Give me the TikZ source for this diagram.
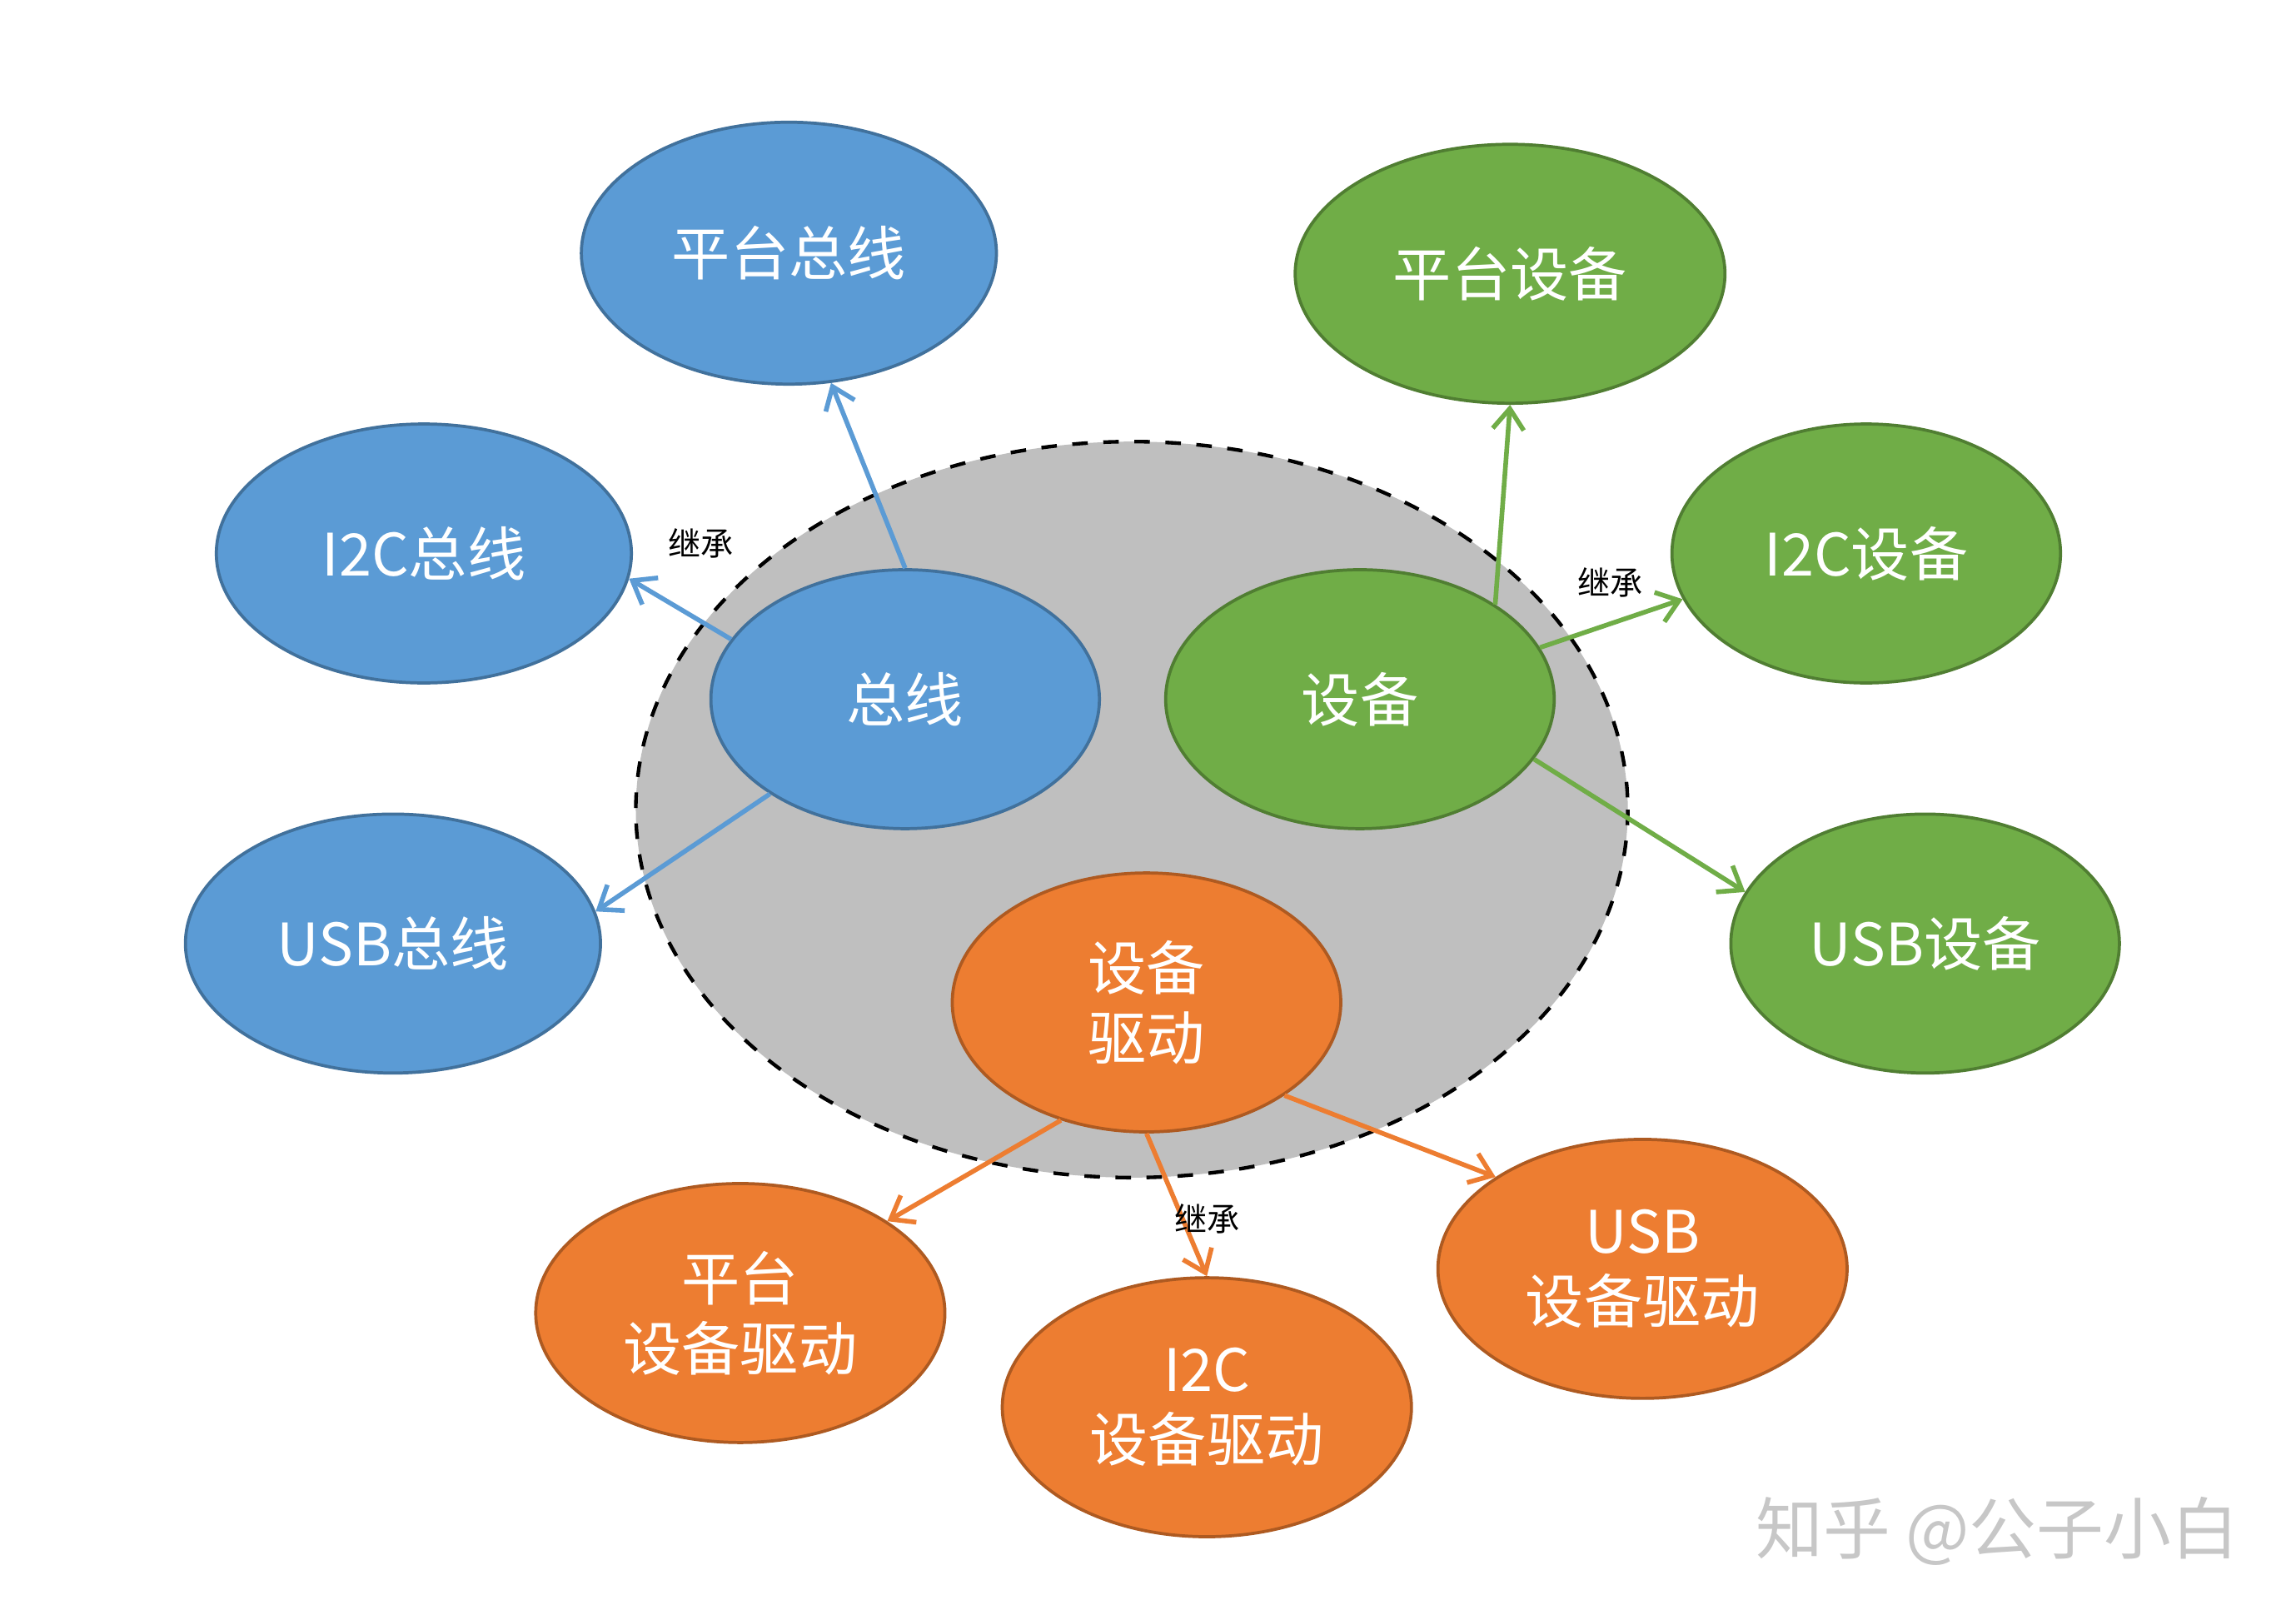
\documentclass[tikz,border=0pt]{standalone}
\usepackage{fontspec}
\setmainfont{Noto Sans CJK SC}
\usetikzlibrary{arrows.meta,shapes.geometric}
\definecolor{bF}{HTML}{5B9BD5}\definecolor{bD}{HTML}{41719C}
\definecolor{gF}{HTML}{70AD47}\definecolor{gD}{HTML}{507E32}
\definecolor{oF}{HTML}{ED7D31}\definecolor{oD}{HTML}{AE5A21}
\begin{document}
\begin{tikzpicture}[x=0.01cm,y=-0.01cm,
 el/.style={ellipse,draw,line width=0.6pt,text=white,align=center,inner sep=0pt,font=\fontsize{11.3}{13.5}\selectfont},
 elb/.style={el,fill=bF,draw=bD},
 elg/.style={el,fill=gF,draw=gD},
 elo/.style={el,fill=oF,draw=oD},
 ar/.style={-{Straight Barb[length=4pt,width=6pt]},line width=0.9pt},
 lab/.style={font=\fontsize{6.3}{8}\selectfont}]
\useasboundingbox (0,0) rectangle (1560,1097);
\fill[white] (0,0) rectangle (1560,1097);
\draw[fill=black!25,dashed,line width=0.7pt] (769,550) ellipse [x radius=337,y radius=250];
\newcommand\E[7]{\node[#1,minimum width=#4*0.02cm-1.2pt,minimum height=#5*0.02cm-1.2pt] (#6) at (#2,#3) {#7};}
\E{elb}{536}{172}{143}{91}{pz}{平台总线}
\E{elb}{288}{376}{143}{90}{iz}{I2C总线}
\E{elb}{267}{641}{143}{90}{uz}{USB总线}
\E{elb}{615}{475}{134}{90}{zx}{总线}
\E{elg}{924}{475}{134}{90}{sb}{设备}
\E{elg}{1026}{186}{148}{90}{ps}{平台设备}
\E{elg}{1268}{376}{134}{90}{is}{I2C设备}
\E{elg}{1308}{641}{134}{90}{us}{USB设备}
\E{elo}{779}{681}{134}{90}{qd}{设备\\驱动}
\E{elo}{503}{892}{141}{90}{pq}{平台\\设备驱动}
\E{elo}{820}{956}{141}{90}{iq}{I2C\\设备驱动}
\E{elo}{1116}{862}{141}{90}{uq}{USB\\设备驱动}
\draw[ar,bF] (zx.north) -- (pz.-72);
\draw[ar,bF] (zx.161) -- (iz.-7);
\draw[ar,bF] (zx.215) -- (uz.9);
\draw[ar,gF] (sb.35) -- (ps.south);
\draw[ar,gF] (sb.16) -- (is.194);
\draw[ar,gF] (sb.-19) -- (us.164);
\draw[ar,oF] (qd.234) -- (pq.32);
\draw[ar,oF] (qd.south) -- (iq.north);
\draw[ar,oF] (qd.-34) -- (uq.148);
\node[lab] (l1) at (476,369) {继承};
\node[lab] (l2) at (1094,396) {继承};
\node[lab] (l3) at (820,828) {继承};
\node[text=black!22,font=\fontsize{13}{15}\selectfont] (wm) at (1357,1040) {知乎 @公子小白};
\end{tikzpicture}
\end{document}
